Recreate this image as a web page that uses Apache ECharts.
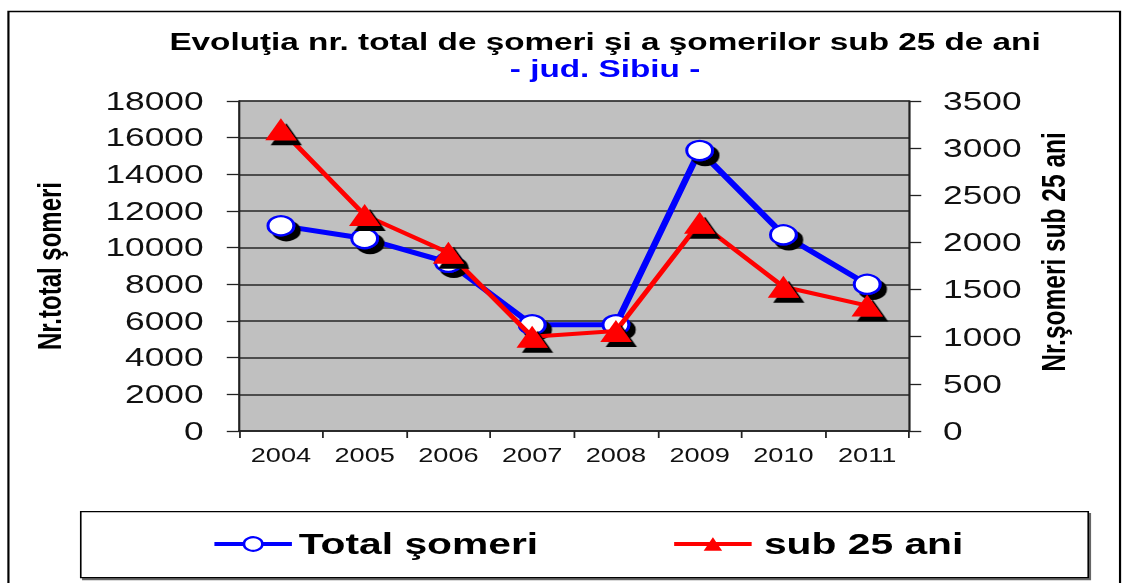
<!DOCTYPE html>
<html>
<head>
<meta charset="utf-8">
<script src="https://cdn.jsdelivr.net/npm/echarts@6/dist/echarts.min.js"></script>
<style>
	html, body { margin: 0; padding: 0; background: #fff; overflow: hidden; }
	/* the source picture is stretched horizontally, so the chart is drawn narrow and widened */
	#chart { width: 826px; height: 583px; transform: scaleX(1.3596); transform-origin: 0 0; }
</style>
</head>
<body>
<div id="chart"></div>
<script>
var years = ["2004", "2005", "2006", "2007", "2008", "2009", "2010", "2011"];
var totalSomeri = [11200, 10500, 9200, 5800, 5800, 15300, 10700, 8000];
var sub25 = [3200, 2290, 1890, 1000, 1060, 2210, 1530, 1330];

var leftTicks = { min: 0, max: 18000, interval: 2000 };
var rightTicks = { min: 0, max: 3500, interval: 500 };

var fontFamily = "'Liberation Sans', Arial, sans-serif";

function plainNumber(v) {
	return String(v);
}

var chart = echarts.init(document.getElementById("chart"), null, { renderer: "svg" });

var option = {
	animation: false,
	textStyle: { fontFamily: fontFamily },
	title: {
		text: "Evoluţia nr. total de şomeri şi a şomerilor sub 25 de ani",
		subtext: "- jud. Sibiu -",
		left: 445,
		top: 30,
		textAlign: "center",
		padding: 0,
		itemGap: 2,
		textStyle: {
			fontFamily: fontFamily,
			fontSize: 24.5,
			fontWeight: "bold",
			color: "#000",
			lineHeight: 24
		},
		subtextStyle: {
			fontFamily: fontFamily,
			fontSize: 24.5,
			fontWeight: "bold",
			color: "#0000ff",
			lineHeight: 24
		}
	},
	graphic: [
		{
			// outer frame
			type: "rect",
			left: 3.7,
			top: 9,
			shape: { width: 817.6, height: 620 },
			style: { fill: "none", stroke: "#000", lineWidth: 1.6 },
			z: -1
		},
		{
			// legend box
			type: "rect",
			left: 58.8,
			top: 511,
			shape: { width: 741, height: 66 },
			style: {
				fill: "#fff",
				stroke: "#000",
				lineWidth: 1.2,
				shadowColor: "#666",
				shadowOffsetX: 1.5,
				shadowOffsetY: 2,
				shadowBlur: 0
			},
			z: 0
		}
	],
	legend: {
		left: 155.7,
		top: 529,
		itemGap: 98,
		itemWidth: 57,
		itemHeight: 17,
		padding: 0,
		z: 5,
		itemStyle: { shadowColor: "transparent", shadowBlur: 0, shadowOffsetX: 0, shadowOffsetY: 0 },
		textStyle: {
			fontFamily: fontFamily,
			fontSize: 30,
			fontWeight: "bold",
			color: "#000"
		},
		data: [
			{
				name: "Total şomeri",
				lineStyle: { color: "#0000ff", width: 4 }
			},
			{
				name: "sub 25 ani",
				lineStyle: { color: "#ff0000", width: 4 },
				textStyle: { padding: [0, 0, 0, 4] }
			}
		]
	},
	grid: {
		left: 175.8,
		right: 157.4,
		top: 101,
		bottom: 152,
		show: true,
		backgroundColor: "#c0c0c0",
		borderColor: "#808080",
		borderWidth: 1.2
	},
	xAxis: {
		type: "category",
		data: years,
		boundaryGap: true,
		axisLine: { show: true, lineStyle: { color: "#222", width: 1.5 } },
		axisTick: { show: true, length: 7, lineStyle: { color: "#222", width: 1.3 } },
		axisLabel: { fontSize: 20, color: "#111", margin: 14, fontFamily: fontFamily },
		splitLine: { show: false }
	},
	yAxis: [
		{
			type: "value",
			position: "left",
			min: leftTicks.min,
			max: leftTicks.max,
			interval: leftTicks.interval,
			name: "Nr.total şomeri",
			nameLocation: "middle",
			nameRotate: 90,
			nameGap: 127,
			nameTextStyle: { fontFamily: fontFamily, fontSize: 24, fontWeight: "bold", color: "#000" },
			axisLine: { show: true, lineStyle: { color: "#222", width: 1.5 } },
			axisTick: { show: true, length: 9, lineStyle: { color: "#222", width: 1.3 } },
			axisLabel: { fontSize: 26, color: "#111", margin: 26, fontFamily: fontFamily, formatter: plainNumber },
			splitLine: { show: true, lineStyle: { color: "#262626", width: 1.5 } }
		},
		{
			type: "value",
			position: "right",
			min: rightTicks.min,
			max: rightTicks.max,
			interval: rightTicks.interval,
			name: "Nr.şomeri sub 25 ani",
			nameLocation: "middle",
			nameRotate: 90,
			nameGap: 77,
			nameTextStyle: {
				fontFamily: fontFamily,
				fontSize: 24.5,
				fontWeight: "bold",
				color: "#000",
				padding: [0, 0, 0, 28]
			},
			axisLine: { show: true, lineStyle: { color: "#222", width: 1.5 } },
			axisTick: { show: true, length: 9, lineStyle: { color: "#222", width: 1.3 } },
			axisLabel: { fontSize: 26, color: "#111", margin: 25, fontFamily: fontFamily, formatter: plainNumber },
			splitLine: { show: false }
		}
	],
	series: [
		{
			name: "Total şomeri",
			type: "line",
			yAxisIndex: 0,
			data: totalSomeri,
			symbol: "circle",
			symbolSize: 19,
			lineStyle: { color: "#0000ff", width: 5 },
			itemStyle: {
				color: "#fff",
				borderColor: "#0000ff",
				borderWidth: 2.2,
				shadowColor: "#000",
				shadowBlur: 1,
				shadowOffsetX: 4,
				shadowOffsetY: 5
			},
			z: 2
		},
		{
			name: "sub 25 ani",
			type: "line",
			yAxisIndex: 1,
			data: sub25,
			symbol: "triangle",
			symbolSize: [23, 22],
			lineStyle: { color: "#ff0000", width: 4 },
			itemStyle: {
				color: "#ff0000",
				borderColor: "#ff0000",
				borderWidth: 0,
				shadowColor: "#000",
				shadowBlur: 1,
				shadowOffsetX: 4,
				shadowOffsetY: 5
			},
			z: 3
		}
	]
};

chart.setOption(option);
</script>
</body>
</html>
